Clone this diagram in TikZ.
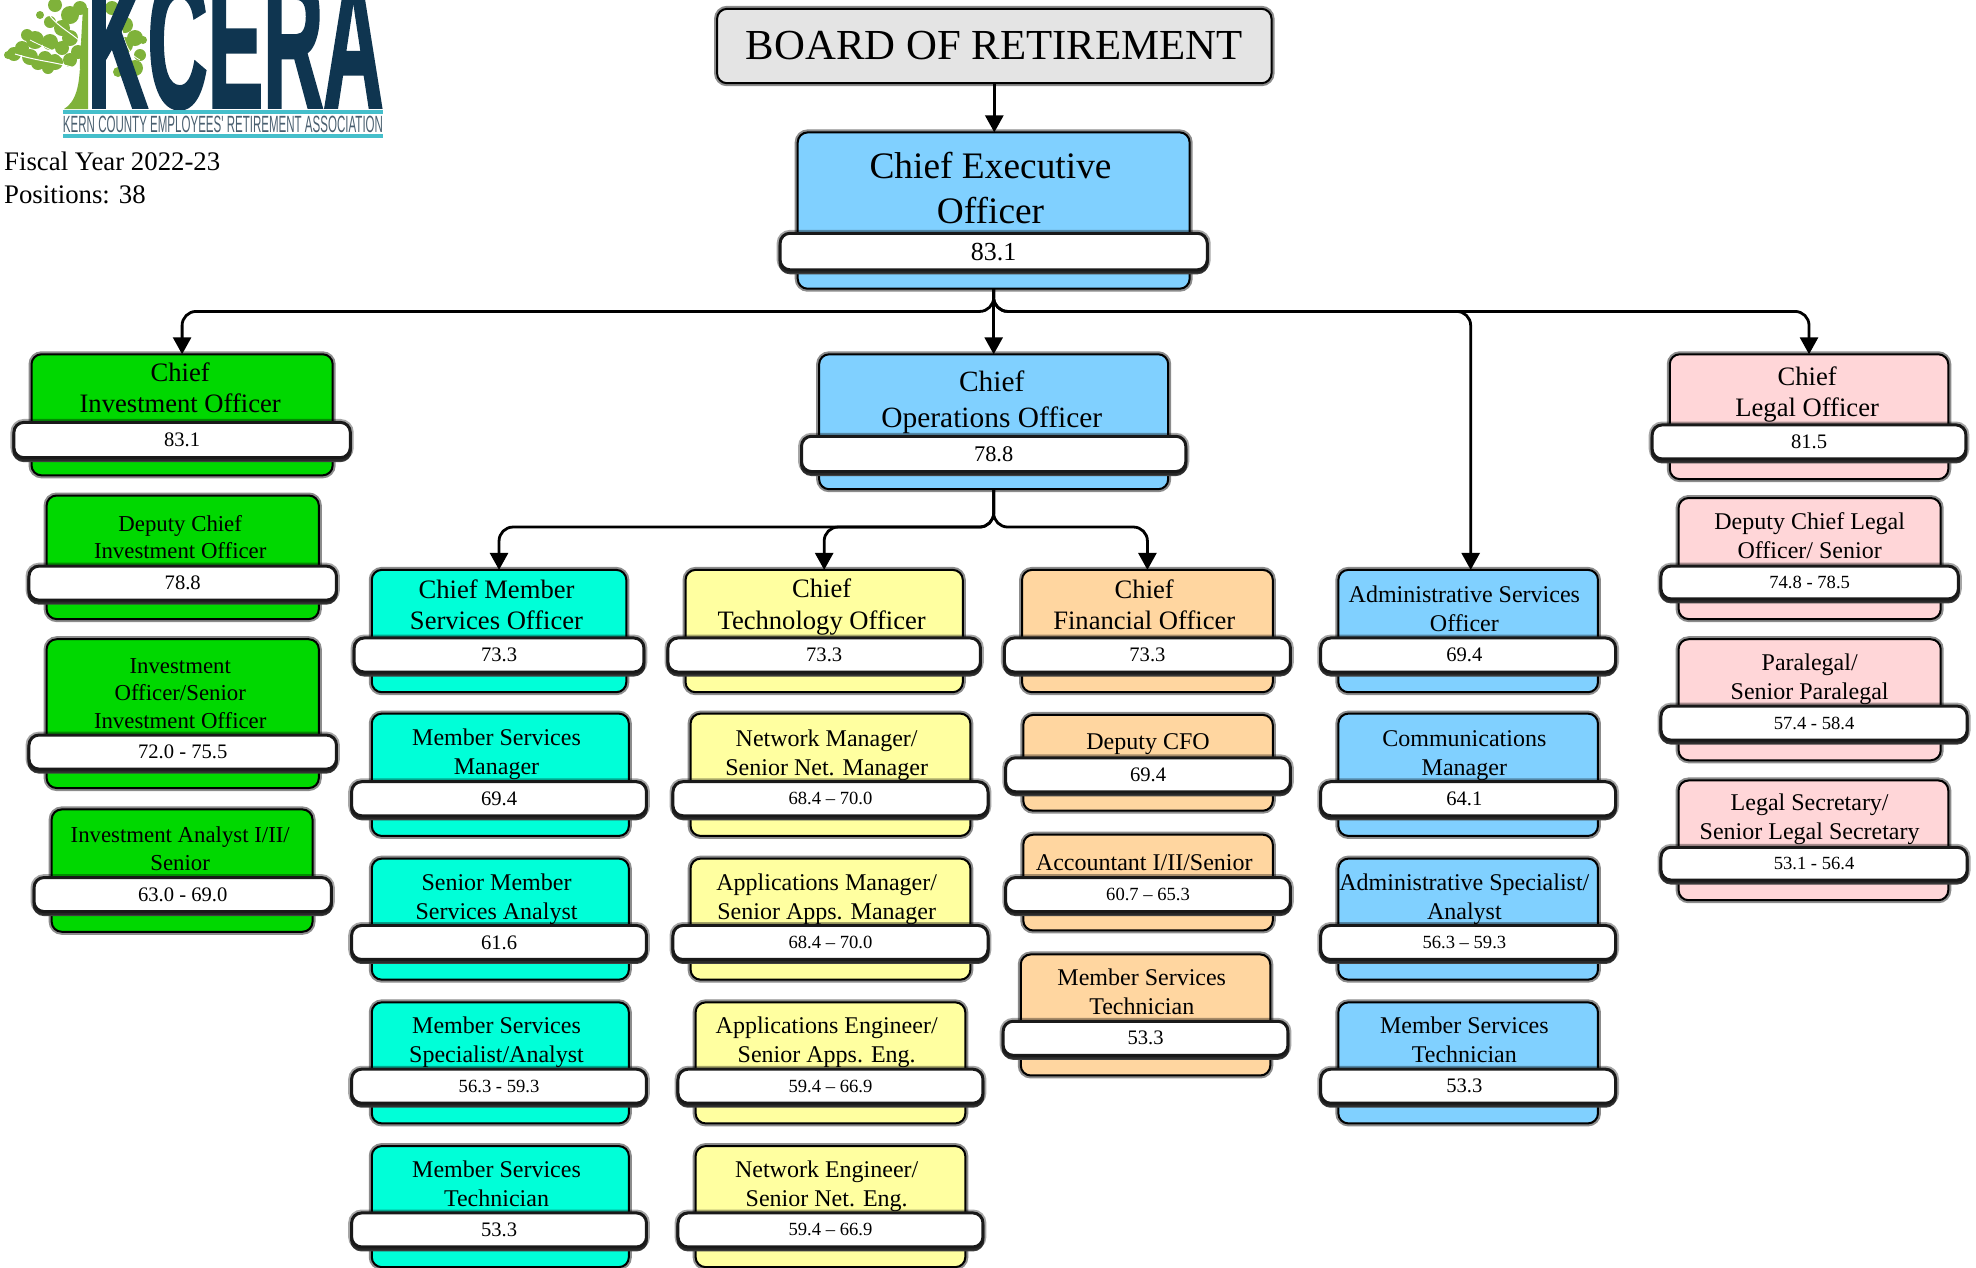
\documentclass[tikz,border=0pt]{standalone}
\usepackage{fontspec}
\usepackage{graphicx}
\setmainfont{Liberation Serif}
\newfontfamily\logofont{Liberation Sans}[BoldFeatures={FakeBold=2.2}]
\usetikzlibrary{arrows.meta,shadows,calc}
\definecolor{cblue}{HTML}{80D0FF}
\definecolor{cgreen}{HTML}{00D800}
\definecolor{ccyan}{HTML}{00FFD8}
\definecolor{cyell}{HTML}{FFFFA0}
\definecolor{corange}{HTML}{FFD6A0}
\definecolor{cpink}{HTML}{FFD6D8}
\definecolor{cgrey}{HTML}{E4E4E4}
\definecolor{navy}{HTML}{0F3550}
\definecolor{leaf}{HTML}{7FB23A}
\definecolor{teal}{HTML}{45BFCB}
\definecolor{tagc}{HTML}{4A6070}
\newcommand\ux{0.6301pt}
\newcommand\uy{0.6304pt}
\newcommand\vshift[1]{\hspace*{-3.8pt}#1}
\tikzset{
  orgbox/.style={rounded corners=5pt,inner sep=0pt,outer sep=0pt,draw=black,line width=1pt,
    preaction={draw=black!45,line width=3pt}},
  bandbox/.style={rounded corners=5pt,inner sep=0pt,outer sep=0pt,draw=black!90,line width=1.5pt,fill=white,
    font=\fontsize{10.3}{12}\selectfont,
    copy shadow={shadow xshift=0pt,shadow yshift=-1.5pt,fill=black!75,draw=black!75,line width=1.5pt},
    preaction={draw=black,opacity=.35,line width=3.4pt}},
  rng/.style={font=\fontsize{9.3}{12}\selectfont},
  titletext/.style={inner sep=0pt,align=center,text=black},
  tA/.style={titletext,font=\fontsize{18.7}{22.5}\selectfont},
  tB/.style={titletext,font=\fontsize{14.7}{17.7}\selectfont},
  tC/.style={titletext,font=\fontsize{13.3}{15.8}\selectfont},
  tD/.style={titletext,font=\fontsize{12}{14.5}\selectfont},
  tE/.style={titletext,font=\fontsize{11.4}{13.9}\selectfont},
  conn/.style={draw=black,line width=1.4pt,rounded corners=7pt,-{Triangle[width=9pt,length=8.5pt]}},
}
\newcommand\pbox[6]{\node[orgbox,fill=#2,minimum width={(#4-#3)*\ux},minimum height={(#6-#5)*\uy}] (#1) at ({(#3+#4)/2},{(#5+#6)/2}) {};}
\newcommand\pbandv[7][]{\node[bandbox,#1,minimum width={(#4-#3)*\ux},minimum height={(#6-#5)*\uy}] (#2) at ({(#3+#4)/2},{(#5+#6)/2}) {#7};}
\newcommand\ptitle[5]{\node[#2] (#1) at (#3,#4) {#5};}
\begin{document}
\begin{tikzpicture}[x=\ux,y=-\uy]
\clip (0,0) rectangle (1568,1005);
% logo
\begin{scope}[x=0.5pt,y=-0.5pt]
  \fill[leaf] (64,109) .. controls (76,102) and (80,85) .. (80,60) -- (83,8) -- (88,8) -- (88,109) -- cycle;
  \foreach \cx/\cy/\r in {8/55/4,14/54/7,22/48/7,30/57/8,38/63/7,45/58/7,55/62/8,48/68/6,35/40/9,27/35/6,50/42/8,62/48/7,70/38/8,62/28/8,50/22/6,70/15/9,80/8/7,55/5/7,40/15/4,78/52/7,70/60/7,112/8/7,125/25/8,135/38/8,125/45/8,140/55/6,135/68/8,125/60/5,118/72/5,143/40/4}
    \fill[leaf] (\cx,\cy) circle[radius=\r];
  \draw[white,line width=0.5pt] (80,70) .. controls (60,62) and (40,62) .. (15,54);
  \draw[white,line width=0.5pt] (81,42) .. controls (70,32) and (60,28) .. (50,16);
  \draw[white,line width=0.4pt] (62,58) .. controls (55,50) and (45,48) .. (30,40);
  \draw[white,line width=0.4pt] (140,60) .. controls (130,55) and (125,45) .. (122,30);
  \node[inner sep=0pt,anchor=south west,text=navy] (logoname) at (87,109) {\resizebox{148pt}{66pt}{\logofont\bfseries KCERA}};
  \fill[teal] (63,110) rectangle (383,114);
  \fill[teal] (63,134) rectangle (383,138);
  \node[inner sep=0pt,text=tagc] (logotag) at (223,124) {\resizebox{160pt}{8.2pt}{\logofont KERN COUNTY EMPLOYEES' RETIREMENT ASSOCIATION}};
\end{scope}
\node[anchor=north west,inner sep=0pt,align=left,font=\fontsize{13.4}{16.3}\selectfont] (fiscal) at (3,120.5) {Fiscal Year 2022-23\\Positions: 38};
% board
\node[orgbox,fill=cgrey,minimum width={440*\ux},minimum height={59*\uy},font=\fontsize{21.4}{24}\selectfont] (board) at (789,36.5) {BOARD OF RETIREMENT};
% CEO
\pbox{ceo}{cblue}{633}{944}{105}{229}
\ptitle{ceoT}{tA}{786}{149}{Chief Executive\\Officer}
\pbandv[font=\fontsize{13}{15}\selectfont]{ceoV}{619}{958}{185}{214}{83.1}
% investment column
\pbox{cio}{cgreen}{25}{264}{281}{377}
\ptitle{cioT}{tC}{143}{307.5}{Chief\\Investment Officer}
\pbandv{cioV}{11}{278}{335}{363}{83.1}
\pbox{dcio}{cgreen}{37}{253}{393}{491}
\ptitle{dcioT}{tE}{143}{426}{Deputy Chief\\Investment Officer}
\pbandv{dcioV}{23}{267}{449}{476}{78.8}
\pbox{inv}{cgreen}{37}{253}{507}{625}
\ptitle{invT}{tE}{143}{550}{Investment\\Officer/Senior\\Investment Officer}
\pbandv{invV}{23}{267}{583}{610}{72.0 - 75.5}
\pbox{ana}{cgreen}{41}{248}{642}{739}
\ptitle{anaT}{tE}{143}{673}{Investment Analyst I/II/\\Senior}
\pbandv{anaV}{27}{263}{696}{723}{63.0 - 69.0}
% COO
\pbox{coo}{cblue}{650}{927}{281}{388}
\ptitle{cooT}{tB}{787}{319}{Chief\\Operations Officer}
\pbandv[font=\fontsize{11.2}{13}\selectfont]{cooV}{636}{941}{346}{374}{78.8}
% legal column
\pbox{leg}{cpink}{1325}{1546}{281}{380}
\ptitle{legT}{tC}{1434}{313}{Chief\\Legal Officer}
\pbandv{legV}{1311}{1560}{337}{364}{81.5}
\pbox{dleg}{cpink}{1332}{1540}{395}{491}
\ptitle{dlegT}{tD}{1436}{425}{Deputy Chief Legal\\Officer/ Senior}
\pbandv[rng]{dlegV}{1318}{1554}{449}{475}{74.8 - 78.5}
\pbox{para}{cpink}{1332}{1540}{507}{603}
\ptitle{paraT}{tD}{1436}{538.5}{Paralegal/\\Senior Paralegal}
\pbandv[rng]{paraV}{1318}{1561}{560}{587}{57.4 - 58.4}
\pbox{lsec}{cpink}{1332}{1546}{619}{714}
\ptitle{lsecT}{tD}{1436}{650}{Legal Secretary/\\Senior Legal Secretary}
\pbandv[rng]{lsecV}{1318}{1561}{672}{698}{53.1 - 56.4}
% member column
\pbox{cmso}{ccyan}{295}{497}{452}{549}
\ptitle{cmsoT}{tC}{394}{479.5}{Chief Member\\Services Officer}
\pbandv{cmsoV}{281}{511}{506}{533}{73.3}
\pbox{msm}{ccyan}{295}{499}{566}{663}
\ptitle{msmT}{tD}{394}{598.5}{Member Services\\Manager}
\pbandv{msmV}{279}{513}{620}{647}{69.4}
\pbox{sma}{ccyan}{295}{499}{681}{777}
\ptitle{smaT}{tD}{394}{713}{Senior Member\\Services Analyst}
\pbandv{smaV}{279}{513}{734}{761}{61.6}
\pbox{mss}{ccyan}{295}{499}{795}{891}
\ptitle{mssT}{tD}{394}{827}{Member Services\\Specialist/Analyst}
\pbandv[rng]{mssV}{279}{513}{848}{875}{56.3 - 59.3}
\pbox{mst}{ccyan}{295}{499}{909}{1005}
\ptitle{mstT}{tD}{394}{938.5}{Member Services\\Technician}
\pbandv{mstV}{279}{513}{962}{989}{53.3}
% technology column
\pbox{cto}{cyell}{544}{764}{452}{549}
\ptitle{ctoT}{tC}{652}{481.5}{Chief\\Technology Officer}
\pbandv{ctoV}{530}{778}{506}{533}{73.3}
\pbox{nmg}{cyell}{548}{770}{566}{663}
\ptitle{nmgT}{tD}{656}{599}{Network Manager/\\Senior Net. Manager}
\pbandv[rng]{nmgV}{534}{784}{620}{647}{68.4 – 70.0}
\pbox{amg}{cyell}{548}{770}{681}{777}
\ptitle{amgT}{tD}{656}{713}{Applications Manager/\\Senior Apps. Manager}
\pbandv[rng]{amgV}{534}{784}{734}{761}{68.4 – 70.0}
\pbox{aen}{cyell}{552}{766}{795}{891}
\ptitle{aenT}{tD}{656}{827}{Applications Engineer/\\Senior Apps. Eng.}
\pbandv[rng]{aenV}{538}{780}{848}{875}{59.4 – 66.9}
\pbox{nen}{cyell}{552}{766}{909}{1005}
\ptitle{nenT}{tD}{656}{940.5}{Network Engineer/\\Senior Net. Eng.}
\pbandv[rng]{nenV}{538}{780}{962}{989}{59.4 – 66.9}
% finance column
\pbox{cfo}{corange}{811}{1010}{452}{549}
\ptitle{cfoT}{tC}{908}{479.5}{Chief\\Financial Officer}
\pbandv{cfoV}{797}{1024}{506}{533}{73.3}
\pbox{dcfo}{corange}{812}{1010}{567}{643}
\ptitle{dcfoT}{tD}{911}{590}{Deputy CFO}
\pbandv{dcfoV}{798}{1024}{601}{628}{69.4}
\pbox{acc}{corange}{812}{1010}{662}{738}
\ptitle{accT}{tD}{908}{684.5}{Accountant I/II/Senior}
\pbandv[rng]{accV}{798}{1024}{696}{723}{60.7 – 65.3}
\pbox{fmst}{corange}{810}{1008}{757}{853}
\ptitle{fmstT}{tD}{906}{787}{Member Services\\Technician}
\pbandv{fmstV}{796}{1022}{810}{837}{53.3}
% admin column
\pbox{aso}{cblue}{1062}{1268}{452}{549}
\ptitle{asoT}{tD}{1162}{482.5}{Administrative Services\\Officer}
\pbandv{asoV}{1048}{1282}{506}{533}{\vshift{69.4}}
\pbox{com}{cblue}{1062}{1268}{566}{663}
\ptitle{comT}{tD}{1162}{599}{Communications\\Manager}
\pbandv{comV}{1048}{1282}{620}{647}{\vshift{64.1}}
\pbox{asp}{cblue}{1062}{1268}{681}{777}
\ptitle{aspT}{tD}{1162}{713}{Administrative Specialist/\\Analyst}
\pbandv[rng]{aspV}{1048}{1282}{734}{761}{\vshift{56.3 – 59.3}}
\pbox{amst}{cblue}{1062}{1268}{795}{891}
\ptitle{amstT}{tD}{1162}{824.5}{Member Services\\Technician}
\pbandv{amstV}{1048}{1282}{848}{875}{\vshift{53.3}}
% connectors
\coordinate (busA) at (0,247);
\coordinate (busB) at (0,418);
\coordinate (asoIn) at (1167,452);
\draw[conn] (board.south) -- (board.south |- ceo.north);
\draw[conn] (ceo.south) |- (busA -| cio.north) -- (cio.north);
\draw[conn] (ceo.south) -- (coo.north);
\draw[conn] (ceo.south) |- (busA -| asoIn) -- (asoIn);
\draw[conn] (ceo.south) |- (busA -| leg.north) -- (leg.north);
\draw[conn] (coo.south) |- (busB -| cmso.north) -- (cmso.north);
\draw[conn] (coo.south) |- (busB -| cto.north) -- (cto.north);
\draw[conn] (coo.south) |- (busB -| cfo.north) -- (cfo.north);
\end{tikzpicture}
\end{document}
